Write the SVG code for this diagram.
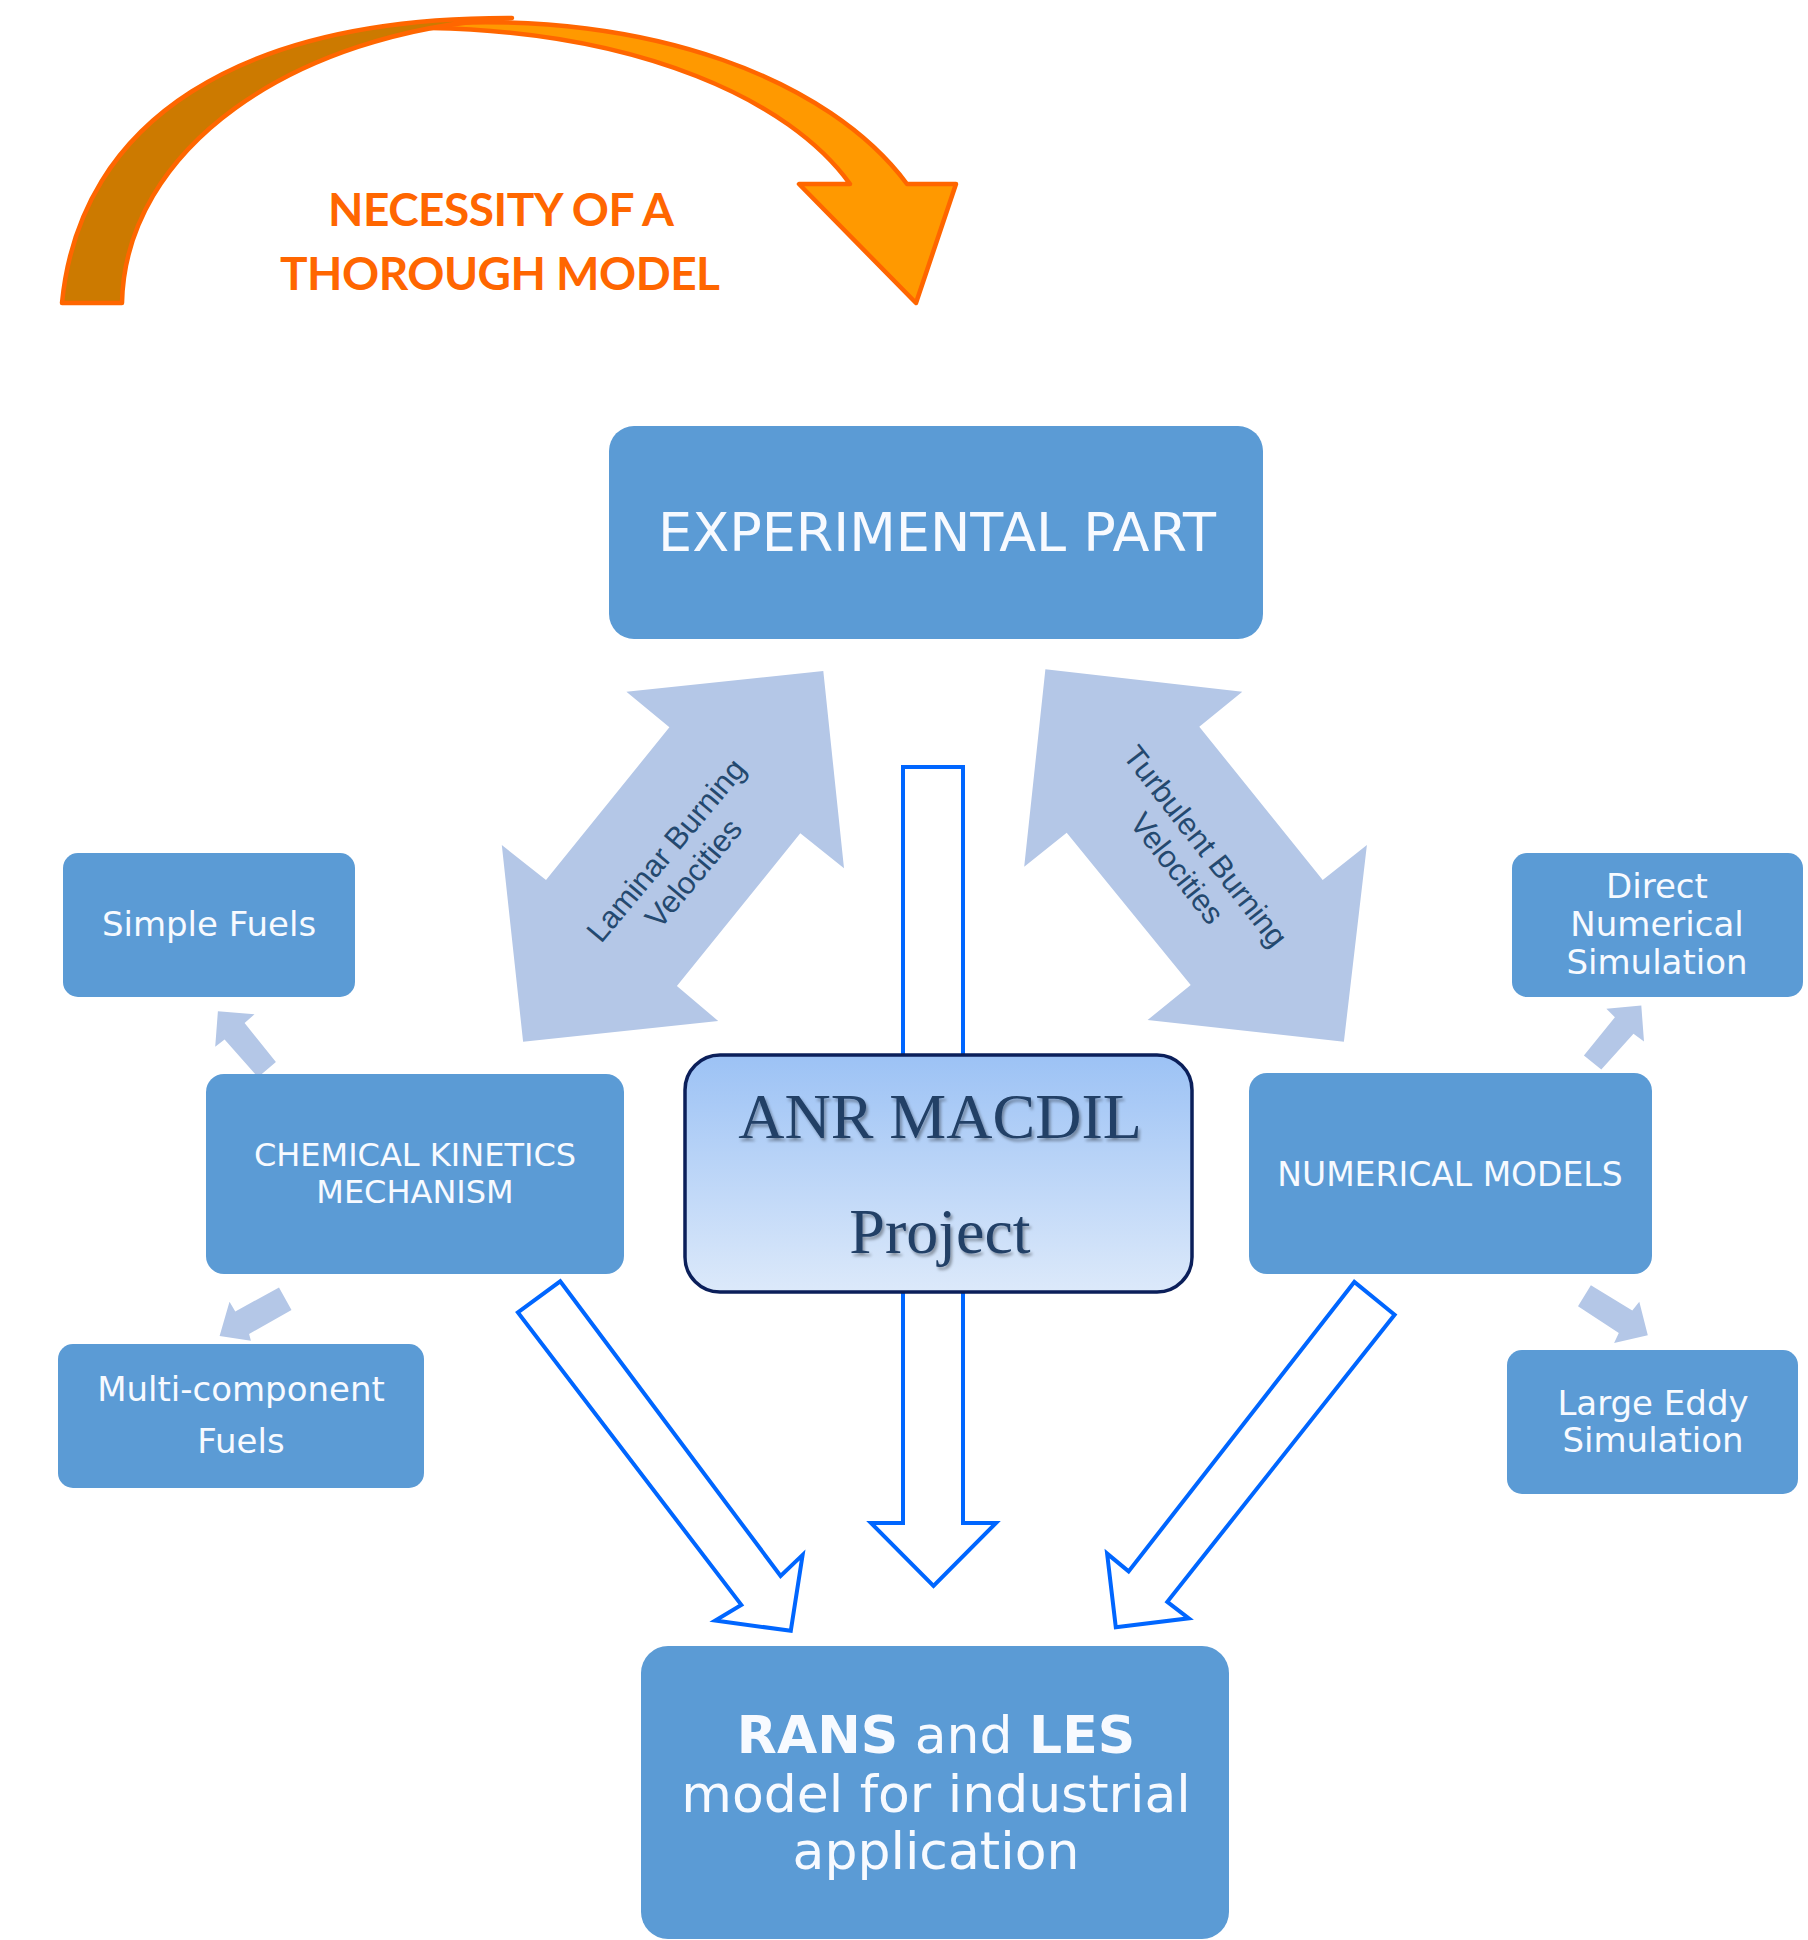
<svg xmlns="http://www.w3.org/2000/svg" width="1808" height="1940" viewBox="0 0 1808 1940">
<defs>
<style>
.box{fill:#5B9BD5;}
.bt{font-family:"DejaVu Sans","Verdana",sans-serif;fill:#F7FAFF;text-anchor:middle;}
.la{fill:#B4C7E7;}
.lbl{font-family:"Liberation Sans",Arial,sans-serif;font-size:31px;fill:#24496F;text-anchor:middle;}
.ol{fill:#FFFFFF;stroke:#0066FF;stroke-width:4;stroke-linejoin:miter;}
.or{stroke:#FF6600;stroke-width:4.5;stroke-linejoin:round;}
.ot{font-family:Lato,"Open Sans",sans-serif;font-weight:700;font-size:46px;fill:#FF6600;text-anchor:middle;}
.anr{font-family:"Liberation Serif","Times New Roman",serif;font-size:64px;fill:#213F66;text-anchor:middle;}
</style>
<linearGradient id="anrg" x1="0" y1="0" x2="0" y2="1">
<stop offset="0" stop-color="#9CC2F5"/>
<stop offset="1" stop-color="#DCE9FA"/>
</linearGradient>
<filter id="sh" x="-10%" y="-20%" width="130%" height="150%">
<feDropShadow dx="2" dy="3" stdDeviation="1.5" flood-color="#000000" flood-opacity="0.35"/>
</filter>
</defs>

<g id="orange-arrow">
<path class="or" fill="#FF9900" d="M430,24 C650,10 830,80 907,184 L956,184 L916,303 L799,184 L850,184 C790,100 640,32 430,28 Z"/>
<path class="or" fill="#CC7A00" d="M62,303 C80,120 240,17 512,18 C290,32 125,150 122,303 Z"/>
<text class="ot" x="501" y="226" textLength="346">NECESSITY OF A</text>
<text class="ot" x="500" y="290" textLength="440">THOROUGH MODEL</text>
</g>

<g id="connectors">
<polygon class="la" points="823.3,671 844,868.3 800.3,833.3 676.9,986 718.2,1021 523.1,1041.7 501.8,845 546,880 669.4,727.3 626.4,691.7"/>
<polygon class="la" points="1045.4,669.3 1242.3,691.7 1199.3,726.7 1322.7,880 1366.9,845 1343.9,1041.7 1147.6,1020 1190.7,985 1066.7,832.7 1024.2,866.7"/>
<g transform="translate(679.5,861.5) rotate(-50)">
<text class="lbl" x="0" y="-7">Laminar Burning</text>
<text class="lbl" x="0" y="29">Velocities</text>
</g>
<g transform="translate(1191.7,857) rotate(52)">
<text class="lbl" x="0" y="-7">Turbulent Burning</text>
<text class="lbl" x="0" y="29">Velocities</text>
</g>
<polygon class="la" points="217.9,1011.3 254.5,1014.3 244.6,1023 275.9,1062 258,1077.2 224.6,1039.5 215.2,1046.8"/>
<polygon class="la" points="279,1287.5 291.5,1310 249.1,1333.9 250.9,1340.8 219.6,1336.1 229.5,1301.8 235.3,1311.4"/>
<polygon class="la" points="1641.3,1005.6 1644,1041.6 1633.5,1033.8 1601.3,1069.4 1583.9,1055.5 1614.9,1017.3 1606.4,1008.7"/>
<polygon class="la" points="1590.9,1285.3 1632.3,1310.5 1639.3,1301.8 1647.8,1335.2 1614.1,1343 1618.8,1333 1578,1306.2"/>
<rect class="ol" x="903" y="767" width="60" height="300"/>
<polygon class="ol" points="903,1280 903,1523 871,1523 933.5,1586 996,1523 963,1523 963,1280"/>
<polygon class="ol" points="560.2,1281.3 780.6,1575.9 802.6,1554.9 790.8,1630.8 715.3,1620.5 741.3,1604.9 517.9,1312.5"/>
<polygon class="ol" points="1354.3,1281.9 1128.6,1571.4 1107.1,1553.6 1115.8,1627.2 1188.8,1618.3 1167.3,1601.8 1394.6,1314.8"/>
</g>

<g id="experimental">
<rect class="box" x="609" y="426" width="654" height="213" rx="25" ry="25"/>
<text class="bt" x="937" y="551" font-size="54">EXPERIMENTAL PART</text>
</g>

<g id="simple-fuels">
<rect class="box" x="63" y="853" width="292" height="144" rx="15" ry="15"/>
<text class="bt" x="209" y="936" font-size="34">Simple Fuels</text>
</g>

<g id="chemical-kinetics">
<rect class="box" x="206" y="1074" width="418" height="200" rx="18" ry="18"/>
<text class="bt" x="415" y="1166" font-size="32">CHEMICAL KINETICS</text>
<text class="bt" x="415" y="1203" font-size="32">MECHANISM</text>
</g>

<g id="multi-component">
<rect class="box" x="58" y="1344" width="366" height="144" rx="15" ry="15"/>
<text class="bt" x="241" y="1401" font-size="34">Multi-component</text>
<text class="bt" x="241" y="1453" font-size="34">Fuels</text>
</g>

<g id="anr-macdil">
<rect x="685" y="1055" width="507" height="237" rx="35" ry="35" fill="url(#anrg)" stroke="#0B1F5A" stroke-width="3.5"/>
<text class="anr" x="940" y="1138" filter="url(#sh)">ANR MACDIL</text>
<text class="anr" x="940" y="1253" filter="url(#sh)">Project</text>
</g>

<g id="numerical-models">
<rect class="box" x="1249" y="1073" width="403" height="201" rx="18" ry="18"/>
<text class="bt" x="1450" y="1186" font-size="33">NUMERICAL MODELS</text>
</g>

<g id="dns">
<rect class="box" x="1512" y="853" width="291" height="144" rx="15" ry="15"/>
<text class="bt" x="1657" y="898" font-size="34">Direct</text>
<text class="bt" x="1657" y="936" font-size="34">Numerical</text>
<text class="bt" x="1657" y="974" font-size="34">Simulation</text>
</g>

<g id="les">
<rect class="box" x="1507" y="1350" width="291" height="144" rx="15" ry="15"/>
<text class="bt" x="1653" y="1415" font-size="34">Large Eddy</text>
<text class="bt" x="1653" y="1452" font-size="34">Simulation</text>
</g>

<g id="rans-les">
<rect class="box" x="641" y="1646" width="588" height="293" rx="27" ry="27"/>
<text class="bt" x="936" y="1753" font-size="52"><tspan font-weight="700">RANS</tspan> and <tspan font-weight="700">LES</tspan></text>
<text class="bt" x="936" y="1812" font-size="52">model for industrial</text>
<text class="bt" x="936" y="1869" font-size="52">application</text>
</g>
</svg>
